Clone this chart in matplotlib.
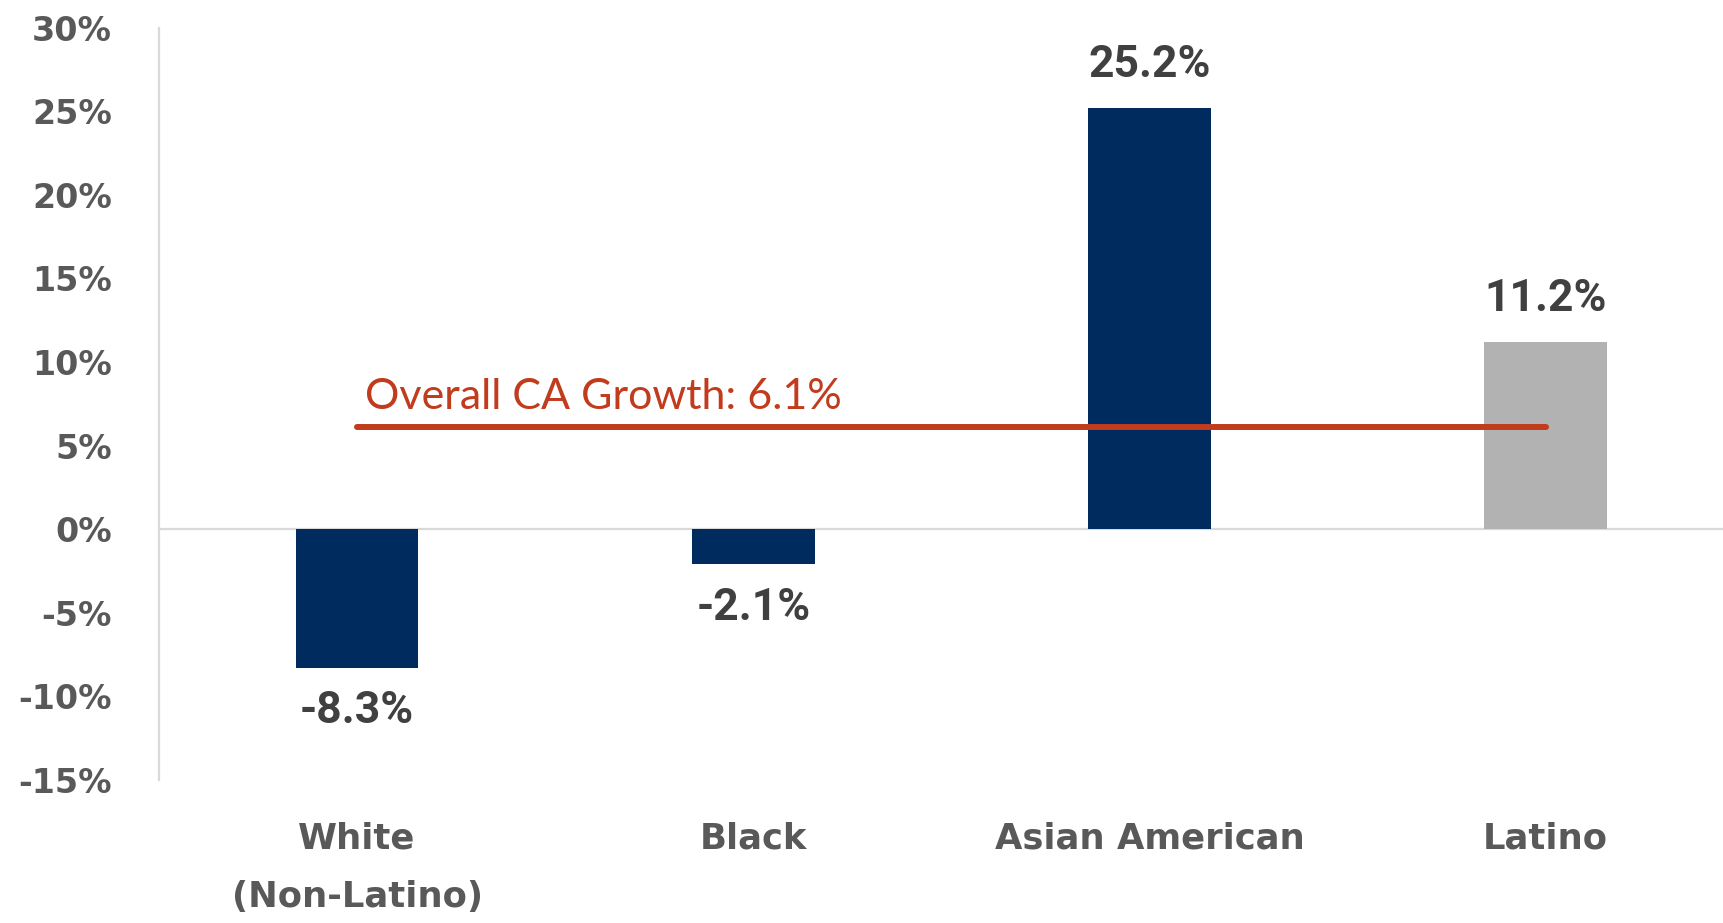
import matplotlib
matplotlib.use("Agg")
import matplotlib.pyplot as plt

groups = ["White\n(Non-Latino)", "Black", "Asian American", "Latino"]
growth = [-8.3, -2.1, 25.2, 11.2]
bar_colors = ["#002B5E", "#002B5E", "#002B5E", "#B2B2B2"]
overall = 6.1
yticks = [-15, -10, -5, 0, 5, 10, 15, 20, 25, 30]

fig = plt.figure(figsize=(17.24, 9.23), dpi=100)
ax = fig.add_axes([0.0922, 0.155, 0.9078, 0.815])

x = list(range(len(groups)))
ax.bar(x, growth, width=0.31, color=bar_colors, zorder=2)

# overall growth reference line
ax.plot([x[0], x[-1]], [overall, overall], color="#C13B1D", linewidth=4.3,
        solid_capstyle="round", zorder=3)
ax.text(x[0] + 0.02, overall + 1.1, f"Overall CA Growth: {overall}%",
        color="#C13B1D", fontsize=31, family="Lato", va="baseline", ha="left")

for xi, v in zip(x, growth):
    off = 16 if v >= 0 else -16
    ax.annotate(f"{v}%", (xi, v), xytext=(0, off), textcoords="offset points",
                ha="center", va="bottom" if v >= 0 else "top", fontsize=32,
                fontweight="bold", family="Roboto", color="#404040")

ax.axhline(0, color="#D9D9D9", linewidth=1.6, zorder=1)

ax.set_xlim(-0.5, 3.45)
ax.set_ylim(-15, 30)
ax.set_yticks(yticks)
ax.set_yticklabels([f"{t}%" for t in yticks])
ax.set_xticks(x)
ax.set_xticklabels(groups, linespacing=1.9)

for s in ["top", "right", "bottom"]:
    ax.spines[s].set_visible(False)
ax.spines["left"].set_color("#D9D9D9")
ax.spines["left"].set_linewidth(1.6)

ax.tick_params(axis="y", length=0, pad=34, labelsize=24, labelcolor="#595959")
ax.tick_params(axis="x", length=0, pad=30, labelsize=25.5, labelcolor="#595959")
for lab in ax.get_yticklabels() + ax.get_xticklabels():
    lab.set_fontweight("bold")

fig.savefig("out.png", dpi=100)
